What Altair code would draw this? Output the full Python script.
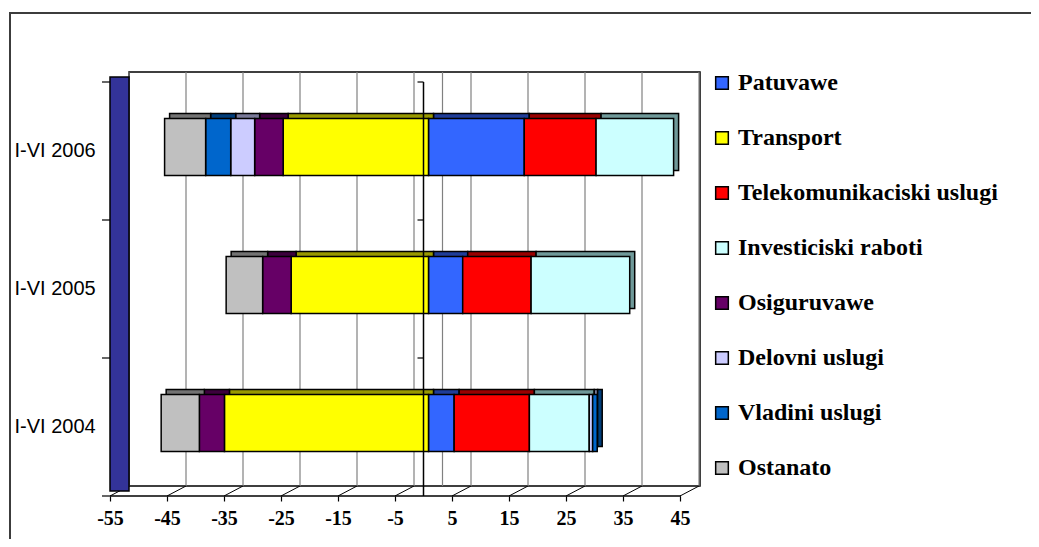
import altair as alt
import pandas as pd

# ---- data ----
periods = ["I-VI 2006", "I-VI 2005", "I-VI 2004"]
series = ["Patuvawe", "Transport", "Telekomunikaciski uslugi", "Investiciski raboti",
          "Osiguruvawe", "Delovni uslugi", "Vladini uslugi", "Ostanato"]
patuvawe = [16.8, 6.0, 4.5]
transport = [-25.5, -24.1, -35.8]
telekom = [12.6, 12.0, 13.2]
investicii = [13.6, 17.3, 10.5]
osiguruvawe = [-5.0, -5.0, -4.4]
delovni = [-4.2, 0.0, 0.6]
vladini = [-4.4, 0.0, 0.8]
ostanato = [-7.2, -6.4, -6.7]
tick_values = [-55, -45, -35, -25, -15, -5, 5, 15, 25, 35, 45]

colors = ["#3366FF", "#FFFF00", "#FF0000", "#CCFFFF", "#660066", "#CCCCFF", "#0066CC", "#C0C0C0"]
dark = ["#1F3D99", "#999900", "#990000", "#6F9999", "#3D003D", "#7A7A99", "#003D7A", "#737373"]

all_vals = [patuvawe, transport, telekom, investicii, osiguruvawe, delovni, vladini, ostanato]
rows = []
for i, s in enumerate(series):
    for j, p in enumerate(periods):
        v = all_vals[i][j]
        if v != 0:
            rows.append({"period": p, "series": s, "shade": s, "idx": i, "value": v})
df = pd.DataFrame(rows)
ticks_df = pd.DataFrame({"t": tick_values})
grid_df = pd.DataFrame({"t": tick_values + [0]})
cat_df = pd.DataFrame({"period": periods, "z": [0, 0, 0]})
one = pd.DataFrame({"a": [0]})

W, H = 570, 414
xscale = alt.Scale(domain=[-55, 45], nice=False, zero=False)
yscale = alt.Scale(domain=periods)

serif = "Liberation Serif"
sans = "Liberation Sans"

xaxis = alt.Axis(values=tick_values, tickOffset=-5, offset=4, domain=False, grid=False,
                 tickSize=5, tickColor="black", tickWidth=1.2, labelFont=serif,
                 labelFontSize=20, labelFontWeight="bold", labelColor="black",
                 labelPadding=7, title=None, labelFlush=False,
                 labelExpr="'' + datum.value")
yaxis = alt.Axis(title=None, ticks=False, domain=False, labelAlign="left",
                 labelPadding=101, labelOffset=4, labelFont=sans, labelFontSize=20,
                 labelColor="black")

border = alt.Chart(one).mark_rect(fill="white", fillOpacity=0, stroke="#3c3c3c", strokeWidth=2).encode(
    x=alt.value(-105), x2=alt.value(2000), y=alt.value(-65), y2=alt.value(2000))

back_frame = alt.Chart(one).mark_rect(fill="white", stroke="black", strokeWidth=1.5).encode(
    x=alt.value(14), x2=alt.value(585), y=alt.value(-6), y2=alt.value(408))

grid = alt.Chart(grid_df).mark_rule(color="#808080", strokeWidth=1.2, xOffset=14).encode(
    x=alt.X("t:Q", scale=xscale, axis=xaxis), y=alt.value(-6), y2=alt.value(408))

hatch = alt.Chart(ticks_df).mark_rule(color="black", strokeWidth=1, xOffset=-5, x2Offset=14).encode(
    x=alt.X("t:Q", scale=xscale, axis=xaxis), x2="t:Q", y=alt.value(418), y2=alt.value(408))

floor_front = alt.Chart(one).mark_rule(color="black", strokeWidth=1.5).encode(
    x=alt.value(-5), x2=alt.value(566), y=alt.value(418))

wall = alt.Chart(one).mark_rect(fill="#333399", stroke="black", strokeWidth=1.5).encode(
    x=alt.value(-5), x2=alt.value(14), y=alt.value(-1), y2=alt.value(413))

# category-boundary ticks on the front left axis and on the zero line
cat_ticks = alt.Chart(cat_df).mark_rule(color="black", strokeWidth=1.2, yOffset=4).encode(
    y=alt.Y("period:N", scale=yscale, sort=periods, axis=yaxis, bandPosition=0),
    x=alt.value(-13), x2=alt.value(-5))
cat_ticks_bottom = alt.Chart(one).mark_rule(color="black", strokeWidth=1.2).encode(
    y=alt.value(418), x=alt.value(-13), x2=alt.value(-5))
zero_ticks = alt.Chart(cat_df).mark_rule(color="black", strokeWidth=1.2, yOffset=4,
                                          xOffset=-11, x2Offset=-5).encode(
    y=alt.Y("period:N", scale=yscale, sort=periods, axis=yaxis, bandPosition=0),
    x=alt.X("z:Q", scale=xscale, axis=xaxis), x2="z:Q")

back_bars = alt.Chart(df).mark_bar(size=57, stroke="black", strokeWidth=1.5,
                                   xOffset=5, x2Offset=5, yOffset=-5).encode(
    x=alt.X("value:Q", stack="zero", scale=xscale, axis=xaxis),
    y=alt.Y("period:N", scale=yscale, sort=periods, axis=yaxis),
    color=alt.Color("shade:N", scale=alt.Scale(domain=series, range=dark), legend=None),
    order=alt.Order("idx:Q", sort="ascending"),
)

front_bars = alt.Chart(df).mark_bar(size=57, stroke="black", strokeWidth=1.5).encode(
    x=alt.X("value:Q", stack="zero", scale=xscale, axis=xaxis),
    y=alt.Y("period:N", scale=yscale, sort=periods, axis=yaxis),
    color=alt.Color("series:N", scale=alt.Scale(domain=series, range=colors), sort=series,
                    legend=alt.Legend(title=None, orient="none", legendX=595, legendY=-7,
                                      symbolType="square", symbolSize=160,
                                      symbolStrokeColor="black", symbolStrokeWidth=1.5,
                                      symbolOpacity=1, labelFont=serif, labelFontSize=24,
                                      labelFontWeight="bold", labelColor="black",
                                      rowPadding=31, labelOffset=4, padding=0,
                                      labelLimit=400)),
    order=alt.Order("idx:Q", sort="ascending"),
)

zero_line = alt.Chart(pd.DataFrame({"z": [0]})).mark_rule(color="black", strokeWidth=1.5, xOffset=-5).encode(
    x=alt.X("z:Q", scale=xscale, axis=xaxis), y=alt.value(4), y2=alt.value(418))

chart = alt.layer(
    border, back_frame, grid, hatch, floor_front, wall, cat_ticks, cat_ticks_bottom,
    back_bars, front_bars, zero_line, zero_ticks
).resolve_scale(color="independent").properties(
    width=W, height=H,
    padding={"left": 107, "top": 70, "right": 346, "bottom": 47},
    autosize=alt.AutoSizeParams(type="none"),
    background="white",
).configure_view(stroke=None)

chart.save("out.html", embed_options={"renderer": "svg", "actions": False})
